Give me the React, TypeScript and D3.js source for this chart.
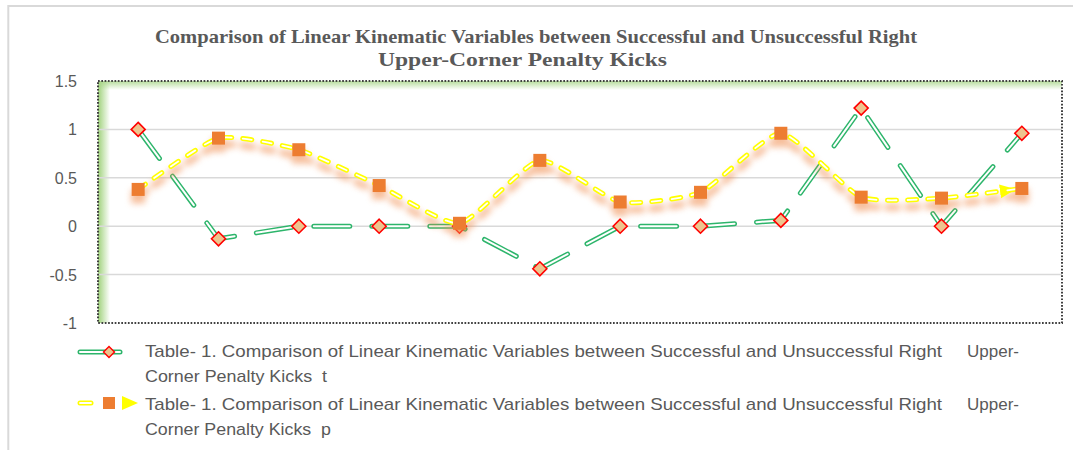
import React from "react";
import * as d3 from "d3";

// categories 1..12 (unnamed in the source chart)
const categories = ["1", "2", "3", "4", "5", "6", "7", "8", "9", "10", "11", "12"];
const tValues = [1.0, -0.13, 0, 0, 0, -0.44, 0, 0, 0.06, 1.22, 0, 0.96];
const pValues = [0.38, 0.91, 0.79, 0.42, 0.03, 0.68, 0.25, 0.35, 0.96, 0.3, 0.29, 0.39];
const yTicks = [-1, -0.5, 0, 0.5, 1, 1.5];
const titleLines = [
  "Comparison of Linear Kinematic Variables between Successful and Unsuccessful Right",
  "Upper-Corner Penalty Kicks",
];
const legendMain = "Table- 1. Comparison of Linear Kinematic Variables between Successful and Unsuccessful Right";
const legendNames = ["Corner Penalty Kicks\u00a0 t", "Corner Penalty Kicks\u00a0 p"];

const W = 1073;
const H = 450;
const plot = { left: 98, right: 1062, top: 81, bottom: 323 };

const GREEN = "#2DB56B";
const YELLOW = "#FFFF00";
const ORANGE = "#ED7D31";
const TEXT = "#595959";

export default function App() {
  const x = d3.scaleBand<string>().domain(categories).range([plot.left, plot.right]);
  const cx = (c: string) => (x(c) as number) + x.bandwidth() / 2;
  const y = d3.scaleLinear().domain([-1, 1.5]).range([plot.bottom, plot.top]);

  const tLine = d3
    .line<number>()
    .x((_, i) => cx(categories[i]))
    .y((d) => y(d));
  const pLine = d3
    .line<number>()
    .x((_, i) => cx(categories[i]))
    .y((d) => y(d))
    .curve(d3.curveCardinal.tension(0.45));

  const tPath = tLine(tValues) || "";
  const pPath = pLine(pValues) || "";

  const diamond = (px: number, py: number, r: number) =>
    `M${px},${py - r}L${px + r},${py}L${px},${py + r}L${px - r},${py}Z`;

  return (
    <svg width={W} height={H} style={{ position: "absolute", left: 0, top: 0, background: "#fff" }}>
      <defs>
        <linearGradient id="glowLeft" x1="0" x2="1" y1="0" y2="0">
          <stop offset="0%" stopColor="#9BCF75" stopOpacity={0.95} />
          <stop offset="100%" stopColor="#9BCF75" stopOpacity={0} />
        </linearGradient>
        <linearGradient id="glowTop" x1="0" x2="0" y1="0" y2="1">
          <stop offset="0%" stopColor="#A9D68A" stopOpacity={0.85} />
          <stop offset="100%" stopColor="#A9D68A" stopOpacity={0} />
        </linearGradient>
        <filter id="blur" x="-10%" y="-40%" width="120%" height="180%">
          <feGaussianBlur stdDeviation="3" />
        </filter>
        <marker id="arrow" markerUnits="userSpaceOnUse" markerWidth={16} markerHeight={16}
          viewBox="0 0 16 16" refX={22} refY={8} orient="auto">
          <path d="M0,1 L16,8 L0,15 Z" fill={YELLOW} />
        </marker>
      </defs>

      {/* chart frame */}
      <path d={`M8.3,${H} V6 H${W}`} fill="none" stroke="#D9D9D9" strokeWidth={2} />

      {/* title */}
      <g fontFamily="Liberation Serif" fontWeight="bold" fontSize={19} fill={TEXT}>
        <text x={155} y={43} textLength={762} lengthAdjust="spacingAndGlyphs">{titleLines[0]}</text>
        <text x={378} y={66} textLength={289} lengthAdjust="spacingAndGlyphs">{titleLines[1]}</text>
      </g>

      {/* plot area glow */}
      <rect x={plot.left} y={plot.top} width={12} height={plot.bottom - plot.top} fill="url(#glowLeft)" />
      <rect x={plot.left} y={plot.top} width={plot.right - plot.left} height={9} fill="url(#glowTop)" />

      {/* gridlines */}
      {yTicks.filter((t) => t > -1 && t < 1.5).map((t) => (
        <line key={t} x1={plot.left} x2={plot.right} y1={y(t)} y2={y(t)} stroke="#D9D9D9" strokeWidth={1.5} />
      ))}

      {/* dotted border */}
      <rect x={plot.left} y={plot.top} width={plot.right - plot.left} height={plot.bottom - plot.top}
        fill="none" stroke="#404040" strokeWidth={2} strokeDasharray="1.7 1.6" />

      {/* y tick labels */}
      <g fontFamily="Liberation Sans" fontSize={16} fill={TEXT} textAnchor="end">
        {yTicks.map((t) => (
          <text key={t} x={77} y={y(t) + 6}>{t}</text>
        ))}
      </g>

      {/* series t */}
      <path d={tPath} fill="none" stroke={GREEN} strokeWidth={5} strokeLinecap="round" strokeLinejoin="round" strokeDasharray="36 22" />
      <path d={tPath} fill="none" stroke="#fff" strokeWidth={2} strokeLinecap="round" strokeLinejoin="round" strokeDasharray="36 22" />
      {tValues.map((v, i) => (
        <path key={i} d={diamond(cx(categories[i]), y(v), 7)} fill="#EEC48E" stroke="#FF0000" strokeWidth={1.6} />
      ))}

      {/* series p: shadow */}
      <g transform="translate(0,7)" filter="url(#blur)" opacity={0.55}>
        <path d={pPath} fill="none" stroke="#F08A4B" strokeWidth={7} strokeLinecap="round" strokeDasharray="10 10" />
        {pValues.map((v, i) => (
          <rect key={i} x={cx(categories[i]) - 7} y={y(v) - 7} width={14} height={14} fill="#F08A4B" />
        ))}
      </g>
      <path d={pPath} fill="none" stroke={YELLOW} strokeWidth={5} strokeLinecap="round" strokeDasharray="9 11"
        markerEnd="url(#arrow)" />
      <path d={pPath} fill="none" stroke="#fff" strokeWidth={1.8} strokeLinecap="round" strokeDasharray="9 11" />
      {pValues.map((v, i) => (
        <rect key={i} x={cx(categories[i]) - 6.5} y={y(v) - 6.5} width={13} height={13} fill={ORANGE} />
      ))}

      {/* legend */}
      <g>
        <line x1={80} x2={120} y1={352} y2={352} stroke={GREEN} strokeWidth={5} strokeLinecap="round" />
        <line x1={80} x2={120} y1={352} y2={352} stroke="#fff" strokeWidth={2} strokeLinecap="round" />
        <path d={diamond(109, 352, 5.5)} fill="#EEC48E" stroke="#FF0000" strokeWidth={1.4} />

        <line x1={80} x2={91} y1={403} y2={403} stroke={YELLOW} strokeWidth={5} strokeLinecap="round" />
        <line x1={80} x2={91} y1={403} y2={403} stroke="#fff" strokeWidth={1.8} strokeLinecap="round" />
        <rect x={103} y={397} width={12} height={12} fill={ORANGE} />
        <path d="M122,396 L138,403 L122,410 Z" fill={YELLOW} />
      </g>
      <g fontFamily="Liberation Sans" fontSize={17} fill={TEXT}>
        <text x={145} y={357} textLength={797} lengthAdjust="spacingAndGlyphs">{legendMain}</text>
        <text x={967} y={357}>Upper-</text>
        <text x={145} y={382} textLength={182} lengthAdjust="spacingAndGlyphs">{legendNames[0]}</text>
        <text x={145} y={410} textLength={797} lengthAdjust="spacingAndGlyphs">{legendMain}</text>
        <text x={967} y={410}>Upper-</text>
        <text x={145} y={435} textLength={186} lengthAdjust="spacingAndGlyphs">{legendNames[1]}</text>
      </g>
    </svg>
  );
}
